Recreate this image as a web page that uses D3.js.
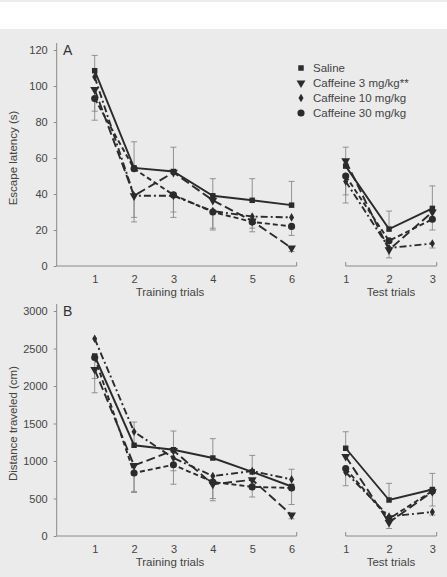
<!DOCTYPE html>
<html>
<head>
<meta charset="utf-8">
<script src="https://cdn.jsdelivr.net/npm/d3@7"></script>
<style>
  html, body { margin: 0; padding: 0; background: #ebebeb; }
  #band { position: absolute; left: 0; top: 2px; width: 447px; height: 27px; background: #fff; }
</style>
</head>
<body>
<div id="band"></div>
<div id="chart"></div>
<script>
// Escape latency (A) and distance traveled (B) across training and test trials

const SERIES = ['Saline', 'Caffeine 3 mg/kg**', 'Caffeine 10 mg/kg', 'Caffeine 30 mg/kg'];
const TRAIN_TRIALS = [1, 2, 3, 4, 5, 6];
const TEST_TRIALS = [1, 2, 3];
const TICKS_A = [0, 20, 40, 60, 80, 100, 120];
const TICKS_B = [0, 500, 1000, 1500, 2000, 2500, 3000];

// Panel A - escape latency (s)
const latencyTrain = [
    [108.5, 54.5, 52.5, 39, 36.5, 33.8],
    [98, 39, 52, 36.5, 25, 10],
    [105, 39, 39, 30.5, 27.5, 27],
    [93, 54, 39.5, 30, 24.5, 22]
];
const latencyTest = [
    [55.5, 20.5, 32],
    [58.5, 9, 30],
    [47, 10, 12.5],
    [50, 14, 26]
];
// SEM, saline drawn upward, drug groups downward (null = not visible)
const latencyTrainErr = [
    [8.5, 14.5, 13.5, 9.5, 12, 13.2],
    [12, 12, null, null, 4, 2],
    [null, 14.5, 12, 10.5, null, null],
    [12, null, 9.5, 9, 5.5, 5]
];
const latencyTestErr = [
    [10.5, 10, 12.5],
    [null, 4.5, null],
    [7.5, null, 2.5],
    [15, null, 6]
];

// Panel B - distance traveled (cm)
const distTrain = [
    [2400, 1210, 1150, 1040, 855, 660],
    [2220, 940, 1140, 690, 750, 280],
    [2630, 1390, 1040, 800, 865, 755],
    [2380, 840, 950, 720, 655, 640]
];
const distTest = [
    [1170, 480, 620],
    [1060, 180, 590],
    [850, 260, 320],
    [900, 230, 600]
];
const distTrainErr = [
    [null, 310, 250, 258, 220, 230],
    [310, 345, null, 220, null, 50],
    [null, null, 170, 300, null, null],
    [280, 260, 260, null, 135, 220]
];
const distTestErr = [
    [220, 222, 215],
    [null, 80, null],
    [null, null, 40],
    [230, null, 200]
];

const W = 447, H = 577;
const ink = '#2b2b2b';
const axisCol = '#8a8a8a';
const textCol = '#444';
const font = '"Liberation Sans", Arial, sans-serif';
const dashes = [null, '9,4', '7,3,2,3', '5,3'];
const symbols = [
    d3.symbol().type(d3.symbolSquare).size(30),
    d3.symbol().type(d3.symbolTriangle).size(34),
    d3.symbol().type(d3.symbolDiamond).size(22),
    d3.symbol().type(d3.symbolCircle).size(40)
];

const svg = d3.select('#chart').append('svg')
    .attr('width', W).attr('height', H)
    .style('position', 'absolute').style('left', 0).style('top', 0);

const xTrain = d3.scaleLinear().domain([0.035, 6.13]).range([56.7, 296.7]);
const xTest = d3.scaleLinear().domain([1, 3.1]).range([345.7, 436.7]);

function styleAxis(g) {
    g.select('.domain').attr('stroke', axisCol).attr('stroke-width', 1);
    g.selectAll('.tick line').attr('stroke', axisCol);
    g.selectAll('text').attr('fill', textCol).attr('font-size', '11px').attr('font-family', font);
}

function drawPanel(cfg) {
    const y = d3.scaleLinear().domain(cfg.domain).range(cfg.range);
    const g = svg.append('g');

    // y axis
    const yAx = g.append('g').attr('transform', `translate(${xTrain.range()[0]},0)`)
        .call(d3.axisLeft(y).tickValues(cfg.ticks).tickFormat(d3.format('d'))
            .tickSize(3).tickSizeOuter(0).tickPadding(6))
        .call(styleAxis);
    yAx.select('.domain').attr('d', `M0,${y.range()[0]}V${y.range()[1] - 7}`);

    // x axes
    const axY = y.range()[0];
    [[xTrain, TRAIN_TRIALS], [xTest, TEST_TRIALS]].forEach(([xs, vals], k) => {
        const ax = g.append('g').attr('transform', `translate(0,${axY})`)
            .call(d3.axisBottom(xs).tickValues(vals).tickFormat(d3.format('d'))
                .tickSize(0).tickPadding(9))
            .call(styleAxis);
        ax.select('.domain').attr('d', k === 0
            ? `M${xs.range()[0]},0H${xs.range()[1]}V-4`
            : `M${xs.range()[0]},-4V0H${xs.range()[1]}V-4`);
    });

    g.append('text').attr('x', 170).attr('y', axY + 30)
        .attr('text-anchor', 'middle').attr('font-size', '11.5px').attr('font-family', font)
        .attr('fill', textCol).text('Training trials');
    g.append('text').attr('x', 391).attr('y', axY + 30)
        .attr('text-anchor', 'middle').attr('font-size', '11.5px').attr('font-family', font)
        .attr('fill', textCol).text('Test trials');

    // y label
    const midY = (y.range()[0] + y.range()[1]) / 2;
    g.append('text').attr('transform', `translate(17,${midY}) rotate(-90)`)
        .attr('text-anchor', 'middle').attr('font-size', '11.5px').attr('font-family', font)
        .attr('fill', textCol).text(cfg.ylabel);

    // panel letter
    g.append('text').attr('x', 63).attr('y', y.range()[1] + 5)
        .attr('font-size', '14px').attr('font-family', font).attr('fill', '#333')
        .text(cfg.letter);

    // error bars
    const errs = [[xTrain, TRAIN_TRIALS, cfg.train, cfg.trainErr], [xTest, TEST_TRIALS, cfg.test, cfg.testErr]];
    errs.forEach(([xs, trials, vals, err]) => {
        vals.forEach((row, s) => {
            row.forEach((v, i) => {
                const e = err[s][i];
                if (e == null) return;
                const end = s === 0 ? v + e : v - e;
                const px = xs(trials[i]);
                g.append('line').attr('x1', px).attr('x2', px)
                    .attr('y1', y(v)).attr('y2', y(end))
                    .attr('stroke', '#888').attr('stroke-width', 0.9);
                g.append('line').attr('x1', px - 3).attr('x2', px + 3)
                    .attr('y1', y(end)).attr('y2', y(end))
                    .attr('stroke', '#888').attr('stroke-width', 0.9);
            });
        });
    });

    // lines + markers
    const sets = [[xTrain, TRAIN_TRIALS, cfg.train], [xTest, TEST_TRIALS, cfg.test]];
    sets.forEach(([xs, trials, vals]) => {
        vals.forEach((row, s) => {
            const line = d3.line().x((d, i) => xs(trials[i])).y(d => y(d));
            g.append('path').datum(row).attr('d', line)
                .attr('fill', 'none').attr('stroke', ink).attr('stroke-width', 1.9)
                .attr('stroke-dasharray', dashes[s]);
        });
        vals.forEach((row, s) => {
            g.selectAll(null).data(row).enter().append('path')
                .attr('d', symbols[s])
                .attr('transform', (d, i) => `translate(${xs(trials[i])},${y(d)})${s === 1 ? ' rotate(180)' : ''}`)
                .attr('fill', ink);
        });
    });
}

drawPanel({
    letter: 'A', ylabel: 'Escape latency (s)',
    domain: [0, 120], range: [266, 50], ticks: TICKS_A,
    train: latencyTrain, test: latencyTest,
    trainErr: latencyTrainErr, testErr: latencyTestErr
});
drawPanel({
    letter: 'B', ylabel: 'Distance traveled (cm)',
    domain: [0, 3000], range: [536, 311], ticks: TICKS_B,
    train: distTrain, test: distTest,
    trainErr: distTrainErr, testErr: distTestErr
});

// legend
const legend = svg.append('g');
SERIES.forEach((name, s) => {
    const ly = 68 + s * 15;
    legend.append('path').attr('d', symbols[s])
        .attr('transform', `translate(301,${ly})${s === 1 ? ' rotate(180)' : ''}`)
        .attr('fill', ink);
    legend.append('text').attr('x', 313).attr('y', ly + 4)
        .attr('font-size', '11.5px').attr('font-family', font).attr('fill', textCol)
        .text(name);
});
</script>
</body>
</html>
